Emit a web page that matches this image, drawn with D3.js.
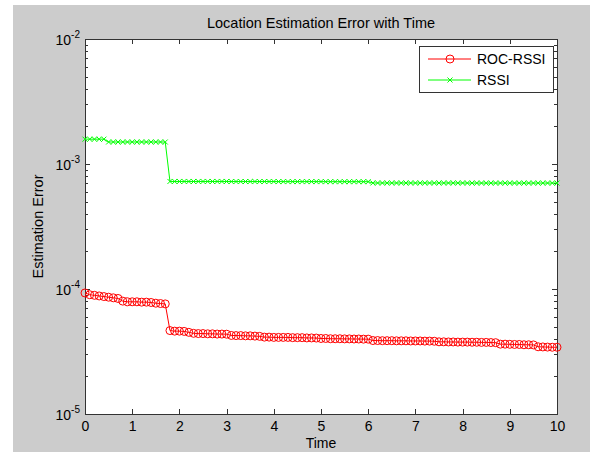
<!DOCTYPE html>
<html>
<head>
<meta charset="utf-8">
<script src="https://cdn.jsdelivr.net/npm/d3@7"></script>
<style>
  body { margin: 0; background: #fff; }
  text { font-family: "Liberation Sans", Arial, sans-serif; fill: #000; }
</style>
</head>
<body>
<div class="chart"></div>
<script>
var width = 590
  , height = 452
  ;

// time samples (x)
var times = [
  0.0, 0.1, 0.2, 0.3, 0.4, 0.5, 0.6, 0.7, 0.8, 0.9,
  1.0, 1.1, 1.2, 1.3, 1.4, 1.5, 1.6, 1.7, 1.8, 1.9,
  2.0, 2.1, 2.2, 2.3, 2.4, 2.5, 2.6, 2.7, 2.8, 2.9,
  3.0, 3.1, 3.2, 3.3, 3.4, 3.5, 3.6, 3.7, 3.8, 3.9,
  4.0, 4.1, 4.2, 4.3, 4.4, 4.5, 4.6, 4.7, 4.8, 4.9,
  5.0, 5.1, 5.2, 5.3, 5.4, 5.5, 5.6, 5.7, 5.8, 5.9,
  6.0, 6.1, 6.2, 6.3, 6.4, 6.5, 6.6, 6.7, 6.8, 6.9,
  7.0, 7.1, 7.2, 7.3, 7.4, 7.5, 7.6, 7.7, 7.8, 7.9,
  8.0, 8.1, 8.2, 8.3, 8.4, 8.5, 8.6, 8.7, 8.8, 8.9,
  9.0, 9.1, 9.2, 9.3, 9.4, 9.5, 9.6, 9.7, 9.8, 9.9,
  10.0
];

// ROC-RSSI error, units of 1e-5
var rocRssi = [
  9.3, 9.0, 8.9, 8.8, 8.7, 8.6, 8.5, 8.4, 8.0, 7.9,
  7.9, 7.9, 7.85, 7.85, 7.8, 7.7, 7.65, 7.6, 4.65, 4.6,
  4.6, 4.58, 4.5, 4.42, 4.40, 4.40, 4.38, 4.38, 4.36, 4.36,
  4.35, 4.25, 4.24, 4.24, 4.22, 4.22, 4.2, 4.18, 4.12, 4.12,
  4.1, 4.1, 4.1, 4.1, 4.08, 4.08, 4.08, 4.06, 4.06, 4.05,
  4.02, 4.02, 4.0, 4.0, 4.0, 3.99, 3.99, 3.98, 3.98, 3.97,
  3.97, 3.87, 3.87, 3.86, 3.86, 3.86, 3.85, 3.85, 3.85, 3.84,
  3.84, 3.84, 3.83, 3.83, 3.82, 3.78, 3.78, 3.77, 3.77, 3.76,
  3.76, 3.76, 3.75, 3.75, 3.74, 3.74, 3.73, 3.72, 3.62, 3.62,
  3.61, 3.6, 3.6, 3.58, 3.58, 3.57, 3.45, 3.44, 3.43, 3.42,
  3.42
];

// RSSI error, units of 1e-4
var rssi = [
  15.8, 15.8, 15.8, 15.8, 15.8, 15.0, 15.0, 15.0, 15.0, 15.0,
  15.0, 15.0, 15.0, 15.0, 15.0, 15.0, 15.0, 15.0, 7.25, 7.25,
  7.25, 7.25, 7.25, 7.25, 7.25, 7.25, 7.25, 7.25, 7.25, 7.25,
  7.25, 7.24, 7.24, 7.24, 7.24, 7.24, 7.24, 7.24, 7.24, 7.24,
  7.24, 7.23, 7.23, 7.23, 7.23, 7.23, 7.23, 7.23, 7.23, 7.23,
  7.23, 7.22, 7.22, 7.22, 7.22, 7.22, 7.22, 7.22, 7.22, 7.22,
  7.22, 7.05, 7.05, 7.05, 7.05, 7.05, 7.05, 7.05, 7.05, 7.05,
  7.05, 7.05, 7.05, 7.05, 7.05, 7.05, 7.05, 7.05, 7.05, 7.05,
  7.05, 7.04, 7.04, 7.04, 7.04, 7.04, 7.04, 7.04, 7.04, 7.04,
  7.04, 7.04, 7.04, 7.04, 7.04, 7.04, 7.04, 7.04, 7.04, 7.04,
  7.04
];

var xTicks = [0, 1, 2, 3, 4, 5, 6, 7, 8, 9, 10];
var yTicks = [1e-5, 1e-4, 1e-3, 1e-2];
var yTickExps = ["-5", "-4", "-3", "-2"];
var seriesNames = ["ROC-RSSI", "RSSI"];

var svg = d3.select(".chart").append("svg")
  .attr("width", width)
  .attr("height", height);

// figure background
svg.append("rect")
  .attr("x", 13)
  .attr("y", 5)
  .attr("width", width - 13)
  .attr("height", height - 5)
  .attr("fill", "#cccccc");

var x = d3.scaleLinear().domain([0, 10]).range([85, 557]);
var y = d3.scaleLog().domain([1e-5, 1e-2]).range([414, 39]);

svg.append("rect")
  .attr("x", x(0))
  .attr("y", y(1e-2))
  .attr("width", x(10) - x(0))
  .attr("height", y(1e-5) - y(1e-2))
  .attr("fill", "#fff");

var minors = y.ticks().filter(function(v) { return yTicks.indexOf(v) < 0; });

function styleAxis(g) {
  g.select(".domain").remove();
  g.selectAll("line").attr("stroke", "#333").attr("shape-rendering", "crispEdges");
  g.selectAll("text").attr("font-size", "14px").attr("fill", "#000");
}

// x axis bottom and top
svg.append("g")
  .attr("transform", "translate(0," + y(1e-5) + ")")
  .call(d3.axisBottom(x).tickValues(xTicks).tickSizeInner(-5).tickSizeOuter(0).tickPadding(7).tickFormat(d3.format("d")))
  .call(styleAxis);
svg.append("g")
  .attr("transform", "translate(0," + y(1e-2) + ")")
  .call(d3.axisTop(x).tickValues(xTicks).tickSizeInner(-5).tickSizeOuter(0).tickFormat(""))
  .call(styleAxis);

// y axis left and right, majors and minors
svg.append("g")
  .attr("transform", "translate(" + x(0) + ",0)")
  .call(d3.axisLeft(y).tickValues(minors).tickSizeInner(-3).tickSizeOuter(0).tickFormat(""))
  .call(styleAxis);
svg.append("g")
  .attr("transform", "translate(" + x(10) + ",0)")
  .call(d3.axisRight(y).tickValues(minors).tickSizeInner(-3).tickSizeOuter(0).tickFormat(""))
  .call(styleAxis);
svg.append("g")
  .attr("transform", "translate(" + x(10) + ",0)")
  .call(d3.axisRight(y).tickValues(yTicks).tickSizeInner(-5).tickSizeOuter(0).tickFormat(""))
  .call(styleAxis);

var yl = svg.append("g")
  .attr("transform", "translate(" + x(0) + ",0)")
  .call(d3.axisLeft(y).tickValues(yTicks).tickSizeInner(-5).tickSizeOuter(0).tickFormat(""))
  .call(styleAxis);

yl.selectAll(".tick").each(function(d, i) {
  var t = d3.select(this).append("text")
    .attr("x", -5)
    .attr("y", 5)
    .attr("text-anchor", "end")
    .attr("font-size", "14px")
    .attr("fill", "#000");
  t.append("tspan").text("10");
  t.append("tspan").attr("dy", -7).attr("font-size", "10px").text(yTickExps[yTicks.indexOf(d)]);
});

// plot box
svg.append("rect")
  .attr("x", x(0))
  .attr("y", y(1e-2))
  .attr("width", x(10) - x(0))
  .attr("height", y(1e-5) - y(1e-2))
  .attr("fill", "none")
  .attr("stroke", "#333")
  .attr("shape-rendering", "crispEdges");

var redPts = times.map(function(t, i) { return [t, rocRssi[i] * 1e-5]; });
var greenPts = times.map(function(t, i) { return [t, rssi[i] * 1e-4]; });

var line = d3.line()
  .x(function(d) { return x(d[0]); })
  .y(function(d) { return y(d[1]); });

var plot = svg.append("g");

plot.append("path")
  .datum(greenPts)
  .attr("d", line)
  .attr("fill", "none")
  .attr("stroke", "#00ff00");

plot.selectAll(".xm")
  .data(greenPts)
  .enter().append("path")
    .attr("class", "xm")
    .attr("transform", function(d) { return "translate(" + x(d[0]) + "," + y(d[1]) + ")"; })
    .attr("d", "M-2.5,-2.5L2.5,2.5M-2.5,2.5L2.5,-2.5")
    .attr("stroke", "#00ff00")
    .attr("fill", "none");

plot.append("path")
  .datum(redPts)
  .attr("d", line)
  .attr("fill", "none")
  .attr("stroke", "#ff0000");

plot.selectAll(".om")
  .data(redPts)
  .enter().append("circle")
    .attr("class", "om")
    .attr("cx", function(d) { return x(d[0]); })
    .attr("cy", function(d) { return y(d[1]); })
    .attr("r", 4)
    .attr("fill", "none")
    .attr("stroke", "#ff0000");

// title and labels
svg.append("text")
  .attr("x", (x(0) + x(10)) / 2)
  .attr("y", 28)
  .attr("text-anchor", "middle")
  .attr("font-size", "14.5px")
  .text("Location Estimation Error with Time");

svg.append("text")
  .attr("x", (x(0) + x(10)) / 2)
  .attr("y", 448)
  .attr("text-anchor", "middle")
  .attr("font-size", "14px")
  .text("Time");

svg.append("text")
  .attr("transform", "translate(43," + (y(1e-5) + y(1e-2)) / 2 + ")rotate(-90)")
  .attr("text-anchor", "middle")
  .attr("font-size", "14.5px")
  .text("Estimation Error");

// legend
var lg = svg.append("g");
lg.append("rect")
  .attr("x", 419)
  .attr("y", 46)
  .attr("width", 134)
  .attr("height", 46)
  .attr("fill", "#fff")
  .attr("stroke", "#333")
  .attr("shape-rendering", "crispEdges");

var colors = ["#ff0000", "#00ff00"];
seriesNames.forEach(function(name, i) {
  var ly = 59 + i * 21;
  lg.append("line")
    .attr("x1", 428).attr("x2", 471)
    .attr("y1", ly).attr("y2", ly)
    .attr("stroke", colors[i]);
  if (i === 0) {
    lg.append("circle")
      .attr("cx", 450).attr("cy", ly).attr("r", 4)
      .attr("fill", "none").attr("stroke", colors[i]);
  } else {
    lg.append("path")
      .attr("transform", "translate(450," + ly + ")")
      .attr("d", "M-2.5,-2.5L2.5,2.5M-2.5,2.5L2.5,-2.5")
      .attr("stroke", colors[i]);
  }
  lg.append("text")
    .attr("x", 477)
    .attr("y", ly + 5)
    .attr("font-size", "14px")
    .text(name);
});
</script>
</body>
</html>
